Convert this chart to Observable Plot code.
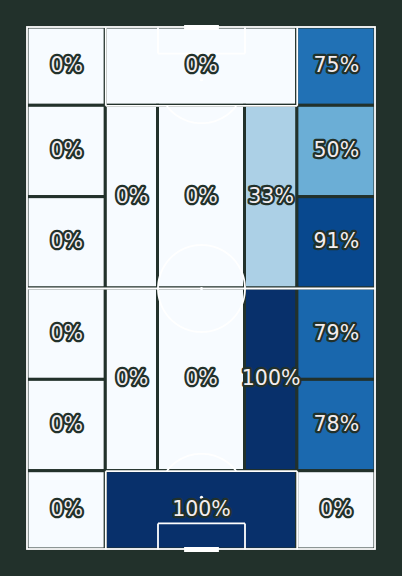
<!DOCTYPE html>
<html>
<head>
<meta charset="utf-8">
<script src="https://cdn.jsdelivr.net/npm/d3@7"></script>
<script src="https://cdn.jsdelivr.net/npm/@observablehq/plot@0.6"></script>
<style>
  html, body { margin: 0; padding: 0; background: #22312b; }
  #chart { width: 402px; height: 576px; }
</style>
</head>
<body>
<div id="chart"></div>
<script>
// Positional zones on a StatsBomb pitch (width 0-80 across, length 0-120 bottom to top)
const zoneLeft   = [0, 18, 62, 0, 62, 0, 62, 18, 30, 50, 0, 62, 0, 62, 18, 30, 50, 0, 18, 62];
const zoneRight  = [18, 62, 80, 18, 80, 18, 80, 30, 50, 62, 18, 80, 18, 80, 30, 50, 62, 18, 62, 80];
const zoneBottom = [102, 102, 102, 81, 81, 60, 60, 60, 60, 60, 39, 39, 18, 18, 18, 18, 18, 0, 0, 0];
const zoneTop    = [120, 120, 120, 102, 102, 81, 81, 102, 102, 102, 60, 60, 39, 39, 60, 60, 60, 18, 18, 18];
const zoneShare  = [0, 0, 0.75, 0, 0.50, 0, 0.91, 0, 0, 0.33, 0, 0.79, 0, 0.78, 0, 0, 1.00, 0, 1.00, 0];

// Blues colour ramp stops
const blueStops = [0, 0.125, 0.25, 0.375, 0.5, 0.625, 0.75, 0.875, 1];
const blueColors = ["#f7fbff", "#deebf7", "#c6dbef", "#9ecae1", "#6baed6", "#4292c6", "#2171b5", "#08519c", "#08306b"];

// Pitch dimensions (StatsBomb)
const pitchLength = 120, pitchWidth = 80;
const boxLeft = 18, boxRight = 62, boxDepth = 18;
const sixLeft = 30, sixRight = 50, sixDepth = 6;
const spotDist = 12, circleR = 10, goalLeft = 36, goalRight = 44;

const zones = zoneShare.map((v, i) => ({
  x1: zoneLeft[i], x2: zoneRight[i], y1: zoneBottom[i], y2: zoneTop[i], v,
  cx: (zoneLeft[i] + zoneRight[i]) / 2, cy: (zoneBottom[i] + zoneTop[i]) / 2
}));

const midX = pitchWidth / 2, midY = pitchLength / 2;
const segs = [
  [0, midY, pitchWidth, midY],
  [boxLeft, 0, boxLeft, boxDepth], [boxLeft, boxDepth, boxRight, boxDepth], [boxRight, boxDepth, boxRight, 0],
  [boxLeft, pitchLength, boxLeft, pitchLength - boxDepth], [boxLeft, pitchLength - boxDepth, boxRight, pitchLength - boxDepth], [boxRight, pitchLength - boxDepth, boxRight, pitchLength],
  [sixLeft, 0, sixLeft, sixDepth], [sixLeft, sixDepth, sixRight, sixDepth], [sixRight, sixDepth, sixRight, 0],
  [sixLeft, pitchLength, sixLeft, pitchLength - sixDepth], [sixLeft, pitchLength - sixDepth, sixRight, pitchLength - sixDepth], [sixRight, pitchLength - sixDepth, sixRight, pitchLength]
].map(([x1, y1, x2, y2]) => ({x1, y1, x2, y2}));

function arc(cx, cy, r, keep) {
  return d3.range(0, 361, 2).map(a => {
    const t = a * Math.PI / 180;
    return {x: cx + r * Math.cos(t), y: cy + r * Math.sin(t)};
  }).filter(keep);
}
const centerCircle = arc(midX, midY, circleR, () => true);
const bottomArc = arc(midX, spotDist, circleR, p => p.y >= boxDepth - 0.01).sort((a, b) => a.x - b.x);
const topArc = arc(midX, pitchLength - spotDist, circleR, p => p.y <= pitchLength - boxDepth + 0.01).sort((a, b) => a.x - b.x);

const spots = [{x: midX, y: spotDist}, {x: midX, y: midY}, {x: midX, y: pitchLength - spotDist}];
const goals = [{x1: goalLeft, x2: goalRight, y: 0}, {x1: goalLeft, x2: goalRight, y: pitchLength}];

const bg = "#22312b";
const chart = Plot.plot({
  width: 402,
  height: 576,
  marginLeft: 27, marginRight: 27, marginTop: 27, marginBottom: 27,
  style: {background: bg},
  x: {domain: [0, pitchWidth], axis: null},
  y: {domain: [0, pitchLength], axis: null},
  color: {type: "linear", domain: blueStops, range: blueColors, interpolate: "rgb"},
  marks: [
    Plot.rect(zones, {x1: "x1", x2: "x2", y1: "y1", y2: "y2", fill: "v", stroke: bg, strokeWidth: 3}),
    Plot.rect([{}], {x1: 0, x2: pitchWidth, y1: 0, y2: pitchLength, fill: "none", stroke: "white", strokeWidth: 1.8}),
    Plot.link(segs, {x1: "x1", y1: "y1", x2: "x2", y2: "y2", stroke: "white", strokeWidth: 1.8}),
    Plot.line(centerCircle, {x: "x", y: "y", stroke: "white", strokeWidth: 1.8}),
    Plot.line(bottomArc, {x: "x", y: "y", stroke: "white", strokeWidth: 1.8}),
    Plot.line(topArc, {x: "x", y: "y", stroke: "white", strokeWidth: 1.8}),
    Plot.dot(spots, {x: "x", y: "y", r: 1.6, fill: "white"}),
    Plot.link(goals, {x1: "x1", x2: "x2", y1: "y", y2: "y", stroke: "white", strokeWidth: 5}),
    Plot.text(zones, {
      x: "cx", y: "cy", dy: -1,
      text: d => `${Math.round(d.v * 100)}%`,
      fill: "#f4edf0", stroke: bg, strokeWidth: 4.5,
      fontSize: 20.5, fontFamily: "DejaVu Sans"
    })
  ]
});
document.getElementById("chart").appendChild(chart);
</script>
</body>
</html>
